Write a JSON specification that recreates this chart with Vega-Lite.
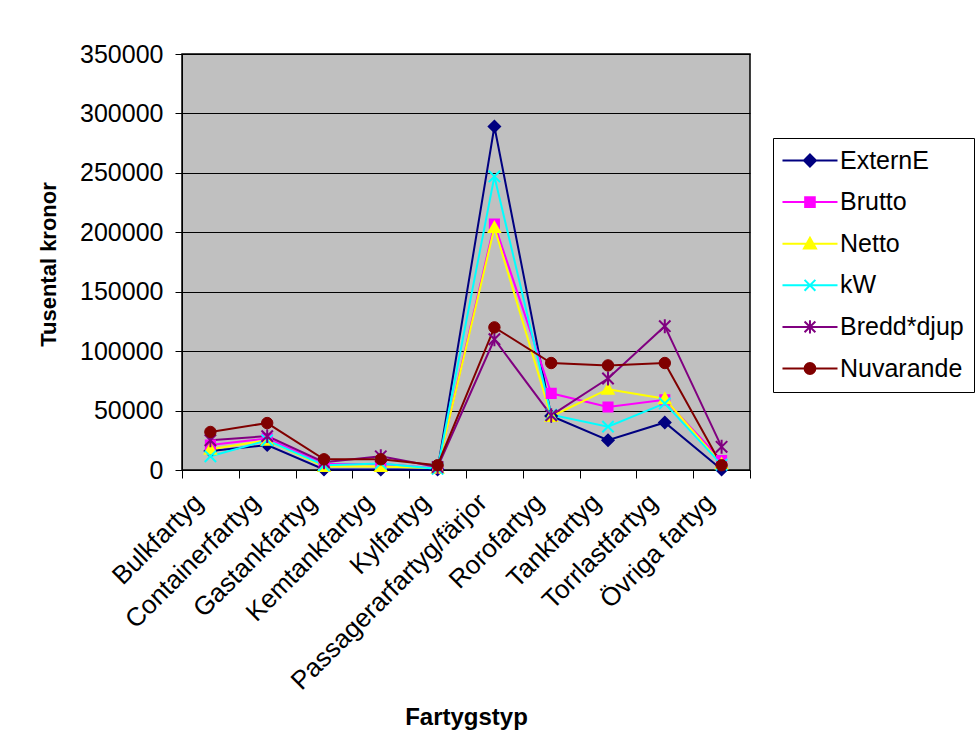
{
  "$schema": "https://vega.github.io/schema/vega-lite/v6.json",
  "width": 568,
  "height": 416,
  "autosize": {"type": "none"},
  "padding": {"left": 182, "top": 54, "right": 225, "bottom": 283},
  "background": "white",
  "config": {
    "font": "Liberation Sans",
    "view": {"fill": "#C0C0C0", "stroke": "black", "strokeWidth": 1.5}
  },
  "data": {
    "values": [
      {"typ": "Bulkfartyg", "s": "ExternE", "v": 16000},
      {"typ": "Containerfartyg", "s": "ExternE", "v": 21000},
      {"typ": "Gastankfartyg", "s": "ExternE", "v": 500},
      {"typ": "Kemtankfartyg", "s": "ExternE", "v": 500},
      {"typ": "Kylfartyg", "s": "ExternE", "v": 500},
      {"typ": "Passagerarfartyg/färjor", "s": "ExternE", "v": 289000},
      {"typ": "Rorofartyg", "s": "ExternE", "v": 45500},
      {"typ": "Tankfartyg", "s": "ExternE", "v": 25000},
      {"typ": "Torrlastfartyg", "s": "ExternE", "v": 40000},
      {"typ": "Övriga fartyg", "s": "ExternE", "v": 500},
      {"typ": "Bulkfartyg", "s": "Brutto", "v": 21000},
      {"typ": "Containerfartyg", "s": "Brutto", "v": 26500},
      {"typ": "Gastankfartyg", "s": "Brutto", "v": 5000},
      {"typ": "Kemtankfartyg", "s": "Brutto", "v": 5000},
      {"typ": "Kylfartyg", "s": "Brutto", "v": 1500},
      {"typ": "Passagerarfartyg/färjor", "s": "Brutto", "v": 207000},
      {"typ": "Rorofartyg", "s": "Brutto", "v": 64500},
      {"typ": "Tankfartyg", "s": "Brutto", "v": 53000},
      {"typ": "Torrlastfartyg", "s": "Brutto", "v": 59000},
      {"typ": "Övriga fartyg", "s": "Brutto", "v": 8000},
      {"typ": "Bulkfartyg", "s": "Netto", "v": 17500},
      {"typ": "Containerfartyg", "s": "Netto", "v": 25000},
      {"typ": "Gastankfartyg", "s": "Netto", "v": 3000},
      {"typ": "Kemtankfartyg", "s": "Netto", "v": 3000},
      {"typ": "Kylfartyg", "s": "Netto", "v": 1500},
      {"typ": "Passagerarfartyg/färjor", "s": "Netto", "v": 204000},
      {"typ": "Rorofartyg", "s": "Netto", "v": 45000},
      {"typ": "Tankfartyg", "s": "Netto", "v": 68000},
      {"typ": "Torrlastfartyg", "s": "Netto", "v": 60000},
      {"typ": "Övriga fartyg", "s": "Netto", "v": 5000},
      {"typ": "Bulkfartyg", "s": "kW", "v": 11500},
      {"typ": "Containerfartyg", "s": "kW", "v": 25000},
      {"typ": "Gastankfartyg", "s": "kW", "v": 4000},
      {"typ": "Kemtankfartyg", "s": "kW", "v": 5500},
      {"typ": "Kylfartyg", "s": "kW", "v": 1000},
      {"typ": "Passagerarfartyg/färjor", "s": "kW", "v": 247000},
      {"typ": "Rorofartyg", "s": "kW", "v": 46500},
      {"typ": "Tankfartyg", "s": "kW", "v": 36500},
      {"typ": "Torrlastfartyg", "s": "kW", "v": 56000},
      {"typ": "Övriga fartyg", "s": "kW", "v": 4500},
      {"typ": "Bulkfartyg", "s": "Bredd*djup", "v": 25000},
      {"typ": "Containerfartyg", "s": "Bredd*djup", "v": 28500},
      {"typ": "Gastankfartyg", "s": "Bredd*djup", "v": 6500},
      {"typ": "Kemtankfartyg", "s": "Bredd*djup", "v": 11500},
      {"typ": "Kylfartyg", "s": "Bredd*djup", "v": 2500},
      {"typ": "Passagerarfartyg/färjor", "s": "Bredd*djup", "v": 110000},
      {"typ": "Rorofartyg", "s": "Bredd*djup", "v": 46000},
      {"typ": "Tankfartyg", "s": "Bredd*djup", "v": 77000},
      {"typ": "Torrlastfartyg", "s": "Bredd*djup", "v": 121000},
      {"typ": "Övriga fartyg", "s": "Bredd*djup", "v": 19500},
      {"typ": "Bulkfartyg", "s": "Nuvarande", "v": 32000},
      {"typ": "Containerfartyg", "s": "Nuvarande", "v": 39500},
      {"typ": "Gastankfartyg", "s": "Nuvarande", "v": 9000},
      {"typ": "Kemtankfartyg", "s": "Nuvarande", "v": 9000},
      {"typ": "Kylfartyg", "s": "Nuvarande", "v": 4000},
      {"typ": "Passagerarfartyg/färjor", "s": "Nuvarande", "v": 120000},
      {"typ": "Rorofartyg", "s": "Nuvarande", "v": 90000},
      {"typ": "Tankfartyg", "s": "Nuvarande", "v": 88000},
      {"typ": "Torrlastfartyg", "s": "Nuvarande", "v": 90000},
      {"typ": "Övriga fartyg", "s": "Nuvarande", "v": 4000}
    ]
  },
  "encoding": {
    "x": {
      "field": "typ",
      "type": "nominal",
      "sort": ["Bulkfartyg", "Containerfartyg", "Gastankfartyg", "Kemtankfartyg", "Kylfartyg", "Passagerarfartyg/färjor", "Rorofartyg", "Tankfartyg", "Torrlastfartyg", "Övriga fartyg"],
      "scale": {"type": "band", "paddingInner": 0, "paddingOuter": 0},
      "bandPosition": 0.5,
      "axis": {
        "title": "Fartygstyp",
        "tickBand": "extent",
        "grid": false,
        "labelAngle": -45,
        "labelAlign": "right",
        "labelBaseline": "middle",
        "labelFontSize": 26,
        "labelLimit": 500,
        "labelPadding": 20,
        "labelOffset": -12,
        "labelColor": "black",
        "tickSize": 8,
        "tickColor": "black",
        "domainColor": "black",
        "titleFontSize": 24,
        "titleFontWeight": "bold",
        "titleColor": "black",
        "titleY": 247,
        "titleBaseline": "middle"
      }
    },
    "y": {
      "field": "v",
      "type": "quantitative",
      "scale": {"domain": [0, 350000], "nice": false},
      "axis": {
        "title": "Tusental kronor",
        "values": [0, 50000, 100000, 150000, 200000, 250000, 300000, 350000],
        "format": "d",
        "grid": true,
        "gridColor": "black",
        "gridWidth": 1,
        "gridOpacity": 1,
        "labelFontSize": 25,
        "labelColor": "black",
        "labelPadding": 12,
        "tickSize": 7,
        "tickColor": "black",
        "domainColor": "black",
        "titleFontSize": 22,
        "titleFontWeight": "bold",
        "titleColor": "black",
        "titleAngle": -90,
        "titleX": -134,
        "titleY": 210,
        "titleAlign": "center",
        "titleBaseline": "middle"
      }
    }
  },
  "layer": [
    {
      "mark": {"type": "line", "strokeWidth": 2},
      "encoding": {
        "color": {
          "field": "s",
          "type": "nominal",
          "scale": {
            "domain": ["ExternE", "Brutto", "Netto", "kW", "Bredd*djup", "Nuvarande"],
            "range": ["#000080", "#FF00FF", "#FFFF00", "#00FFFF", "#800080", "#800000"]
          },
          "legend": {
            "title": null,
            "orient": "none",
            "legendX": 591,
            "legendY": 84,
            "labelFontSize": 25,
            "labelColor": "black",
            "symbolSize": 144,
            "labelOffset": 32,
            "rowPadding": 15.6,
            "padding": 10,
            "strokeColor": "black",
            "fillColor": "white",
            "symbolStrokeWidth": 2,
            "symbolOpacity": 1,
            "encode": {
              "symbols": {
                "update": {
                  "shape": {"signal": "datum.value === 'ExternE' ? 'M-2.17,0H7M2.41,-1L3.41,0L2.41,1L1.41,0Z' : datum.value === 'Brutto' ? 'M-2.17,0H7M1.61,-0.8H3.21V0.8H1.61Z' : datum.value === 'Netto' ? 'M-2.17,0H7M2.41,-1L3.41,0.8H1.41Z' : datum.value === 'kW' ? 'M-2.17,0H7M1.51,-0.9L3.31,0.9M1.51,0.9L3.31,-0.9' : datum.value === 'Bredd*djup' ? 'M-2.17,0H7M1.51,-0.9L3.31,0.9M1.51,0.9L3.31,-0.9M2.41,-1.1V1.1' : 'M-2.17,0H7M1.51,0A0.9,0.9 0 1,0 3.31,0A0.9,0.9 0 1,0 1.51,0Z'"},
                  "fill": {"signal": "scale('color', datum.value)"},
                  "strokeWidth": {"value": 2}
                }
              }
            }
          }
        }
      }
    },
    {
      "transform": [{"filter": "datum.s === 'ExternE'"}],
      "mark": {"type": "point", "shape": "M0,-1L1,0L0,1L-1,0Z", "filled": true, "fill": "#000080", "stroke": "#000080", "strokeWidth": 1.5, "size": 144, "opacity": 1}
    },
    {
      "transform": [{"filter": "datum.s === 'Brutto'"}],
      "mark": {"type": "point", "shape": "M-0.8,-0.8H0.8V0.8H-0.8Z", "filled": true, "fill": "#FF00FF", "stroke": "#FF00FF", "strokeWidth": 1.5, "size": 144, "opacity": 1}
    },
    {
      "transform": [{"filter": "datum.s === 'Netto'"}],
      "mark": {"type": "point", "shape": "M0,-1L1,0.8H-1Z", "filled": true, "fill": "#FFFF00", "stroke": "#FFFF00", "strokeWidth": 1.5, "size": 144, "opacity": 1}
    },
    {
      "transform": [{"filter": "datum.s === 'kW'"}],
      "mark": {"type": "point", "shape": "M-0.9,-0.9L0.9,0.9M-0.9,0.9L0.9,-0.9", "filled": false, "fill": "transparent", "stroke": "#00FFFF", "strokeWidth": 2, "size": 160, "opacity": 1}
    },
    {
      "transform": [{"filter": "datum.s === 'Bredd*djup'"}],
      "mark": {"type": "point", "shape": "M-0.9,-0.9L0.9,0.9M-0.9,0.9L0.9,-0.9M0,-1.1V1.1", "filled": false, "fill": "transparent", "stroke": "#800080", "strokeWidth": 2, "size": 160, "opacity": 1}
    },
    {
      "transform": [{"filter": "datum.s === 'Nuvarande'"}],
      "mark": {"type": "point", "shape": "circle", "filled": true, "fill": "#800000", "stroke": "#800000", "strokeWidth": 1, "size": 130, "opacity": 1}
    }
  ]
}
